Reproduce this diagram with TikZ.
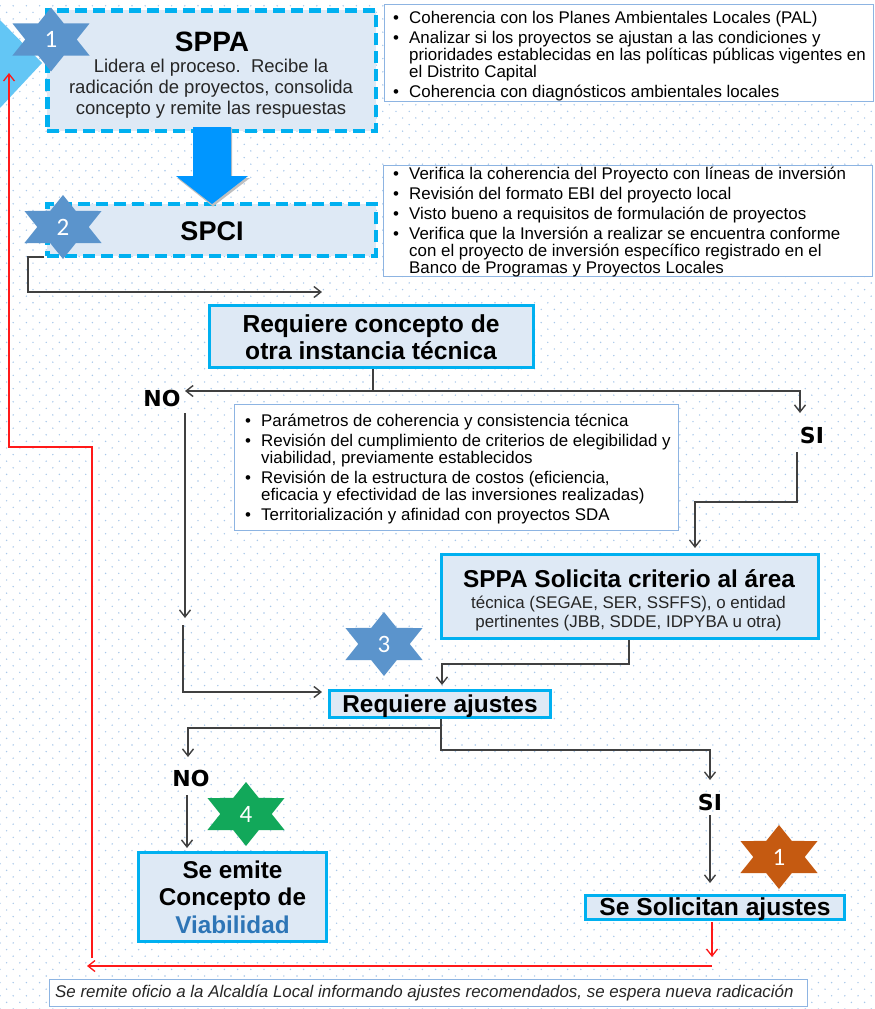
\documentclass[tikz,border=0pt]{standalone}
\usepackage{fontspec}
\setmainfont{Liberation Sans}
\newfontfamily\dejafont{DejaVu Sans}
\newfontfamily\carl{Carlito}
\usetikzlibrary{shapes.geometric,arrows.meta,patterns}
\definecolor{cy}{HTML}{00B0F0}
\definecolor{pale}{HTML}{DEE9F5}
\definecolor{stb}{HTML}{5B94CC}
\definecolor{boxb}{HTML}{8DB4E2}
\definecolor{dotc}{HTML}{A9C8EA}
\definecolor{arrowb}{HTML}{0096FF}
\definecolor{viab}{HTML}{2E75B6}
\definecolor{grn}{HTML}{12A85A}
\definecolor{brn}{HTML}{C55A11}
\definecolor{tri}{HTML}{63C6F5}
\pgfdeclarepatternformonly{dotgrid}{\pgfqpoint{-1pt}{-1pt}}{\pgfqpoint{14.2pt}{14.2pt}}{\pgfqpoint{13.2pt}{13.2pt}}{
 \pgfpathcircle{\pgfqpoint{0pt}{0pt}}{.8pt}
 \pgfpathcircle{\pgfqpoint{6.6pt}{6.6pt}}{.8pt}
 \pgfusepath{fill}
}
\tikzset{
 x=1pt,y=-1pt,
 dashbox/.style={draw=cy,line width=4.5pt,dash pattern=on 12pt off 6pt,fill=pale,inner sep=0pt,anchor=north west,align=center},
 solidbox/.style={draw=cy,line width=3pt,fill=pale,inner sep=0pt,anchor=north west,align=center},
 infobox/.style={draw=boxb,line width=1.2pt,fill=white,inner sep=0pt,anchor=north west},
 starnode/.style={star,star points=6,star point ratio=1.73,minimum size=64pt,inner sep=0pt,draw=none,xscale=1.39,fill=#1},
 starnum/.style={text=white,font=\carl\fontsize{25}{25}\selectfont,inner sep=0pt},
 blk/.style={draw=black!75,line width=1.4pt,-{Straight Barb[length=7pt,width=11pt]}},
 plainblk/.style={draw=black!75,line width=1.4pt},
 redl/.style={draw=red!90,line width=1.3pt,-{Straight Barb[length=7pt,width=11pt]}},
 lab/.style={font=\dejafont\fontsize{22}{22}\selectfont\bfseries,inner sep=1pt},
}
\newcommand{\blist}[3]{\parbox[t]{#1}{\fontsize{16.9}{17}\selectfont\raggedright
 \leftskip=#2 \parindent=0pt \parskip=3pt #3}}
\newcommand{\bi}{\par\hspace*{-16pt}\makebox[16pt][l]{\textbullet}}
\begin{document}
\begin{tikzpicture}
\useasboundingbox (0,0) rectangle (875,1009);
\fill[white] (0,0) rectangle (875,1009);
\fill[pattern=dotgrid,pattern color=dotc] (0,0) rectangle (875,1009);
\fill[tri] (0,20) -- (42,63) -- (0,108) -- cycle;

\node[infobox,minimum width=489pt,minimum height=97pt] (t1) at (384,4) {};
\node[infobox,minimum width=489pt,minimum height=111pt] (t2) at (383,165) {};
\node[infobox,minimum width=444pt,minimum height=126pt] (t3) at (234,404) {};
\node[anchor=north west,inner sep=0pt] (t1txt) at (384,5) {\blist{486pt}{25pt}{\vspace*{3pt}\bi Coherencia con los Planes Ambientales Locales (PAL)\bi Analizar si los proyectos se ajustan a las condiciones y\newline prioridades establecidas en las políticas públicas vigentes en\newline el Distrito Capital\bi Coherencia con diagnósticos ambientales locales}};
\node[anchor=north west,inner sep=0pt] (t2txt) at (383,164) {\blist{486pt}{26pt}{\vspace*{0pt}\bi Verifica la coherencia del Proyecto con líneas de inversión\bi Revisión del formato EBI del proyecto local\bi Visto bueno a requisitos de formulación de proyectos\bi Verifica que la Inversión a realizar se encuentra conforme\newline con el proyecto de inversión específico registrado en el\newline Banco de Programas y Proyectos Locales}};
\node[anchor=north west,inner sep=0pt] (t3txt) at (234,405) {\blist{442pt}{27pt}{\vspace*{6pt}\bi Parámetros de coherencia y consistencia técnica\bi Revisión del cumplimiento de criterios de elegibilidad y\newline viabilidad, previamente establecidos\bi Revisión de la estructura de costos (eficiencia,\newline eficacia y efectividad de las inversiones realizadas)\bi Territorialización y afinidad con proyectos SDA}};

\node[dashbox,minimum width=328.5pt,minimum height=120.5pt] (sppa) at (45,8) {};
\node[font=\fontsize{28}{28}\selectfont\bfseries] (sppat) at (212,42) {SPPA};
\node[align=center,font=\fontsize{18.5}{21}\selectfont,text=black!85] (sppad) at (211,89) {Lidera el proceso.\ \ Recibe la\\radicación de proyectos, consolida\\concepto y remite las respuestas};
\node[dashbox,minimum width=328.5pt,minimum height=52pt] (spci) at (45,201.5) {};
\node[font=\fontsize{27}{27}\selectfont\bfseries] (spcit) at (212,231) {SPCI};

\fill[black!25] (194,128) -- (232,128) -- (232,178) -- (250,178) -- (213,206.5) -- (177,178) -- (194,178) -- cycle;
\fill[arrowb] (193,127) -- (231,127) -- (231,176) -- (248,176) -- (212,204) -- (176,176) -- (193,176) -- cycle;

\node[solidbox,minimum width=324pt,minimum height=62pt] (req) at (208,304) {};
\node[align=center,font=\fontsize{24.6}{27}\selectfont\bfseries] (reqt) at (371,337.5) {Requiere concepto de\\otra instancia técnica};
\node[solidbox,minimum width=377pt,minimum height=84pt] (sol) at (440,553) {};
\node[font=\fontsize{24.4}{24}\selectfont\bfseries] (solt) at (629,579) {SPPA Solicita criterio al área};
\node[align=center,font=\fontsize{16.9}{19}\selectfont,text=black!85] (sold) at (628.5,613.5) {técnica (SEGAE, SER, SSFFS), o entidad\\pertinentes (JBB, SDDE, IDPYBA u otra)};
\node[solidbox,minimum width=221pt,minimum height=27pt] (aj) at (328,689) {};
\node[font=\fontsize{24.4}{24}\selectfont\bfseries] (ajt0) at (440,706) {Requiere ajustes};
\node[solidbox,minimum width=188pt,minimum height=89pt,font=\fontsize{24.3}{27.5}\selectfont\bfseries] (via) at (137,851) {Se emite\\Concepto de\\\textcolor{viab}{Viabilidad}};
\node[solidbox,minimum width=259pt,minimum height=24pt] (ss) at (584,894) {};
\node[font=\fontsize{24.6}{24}\selectfont\bfseries] (sst0) at (715,909) {Se Solicitan ajustes};
\node[draw=boxb,line width=1.2pt,fill=white,inner sep=0pt,anchor=north west,minimum width=758pt,minimum height=27pt] (rem) at (49,979) {};
\node[anchor=west,inner sep=0pt,font=\fontsize{16.9}{14}\selectfont\itshape,text=black!85] (remt) at (55,993) {Se remite oficio a la Alcaldía Local informando ajustes recomendados, se espera nueva radicación};

\node[lab] (no1) at (162,398) {NO};
\node[lab] (si1) at (812,435) {SI};
\node[lab] (no2) at (191,778) {NO};
\node[lab] (si2) at (710,802) {SI};

\node[starnode=stb] (s1) at (51,39.5) {};
\node[starnum] (n1) at (s1.center) {1};
\node[starnode=stb] (s2) at (63,227) {};
\node[starnum] (n2) at (s2.center) {2};
\node[starnode=stb] (s3) at (384,644) {};
\node[starnum] (n3) at (s3.center) {3};
\node[starnode=grn] (s4) at (246,814) {};
\node[starnum] (n4) at (s4.center) {4};
\node[starnode=brn] (s5) at (779,857) {};
\node[starnum] (n5) at (s5.center) {1};

% connectors
\coordinate (c1) at (44,257);
\coordinate (c2) at (322,292);
\draw[blk] (c1) -- (28,257) -- (28,292) -- (c2);
\coordinate (reqb) at (373,369);
\coordinate (split1) at (373,391);
\draw[plainblk] (reqb) -- (split1);
\coordinate (no1end) at (185,391);
\draw[blk] (split1) -- (no1end);
\coordinate (si1end) at (800,413);
\draw[blk] (split1) -- (800,391) -- (si1end);
\coordinate (a) at (185,413);
\coordinate (ae) at (185,618);
\draw[blk] (a) -- (ae);
\coordinate (b) at (183,625);
\coordinate (aw) at (322,692);
\draw[blk] (b) -- (183,692) -- (aw);
\coordinate (si1b) at (797,452);
\coordinate (solt1) at (695,548);
\draw[blk] (si1b) -- (797,502) -- (695,502) -- (solt1);
\coordinate (solb) at (629,640);
\coordinate (ajt) at (442,685);
\draw[blk] (solb) -- (629,664) -- (442,664) -- (ajt);
\coordinate (ajb) at (441,719);
\coordinate (split2) at (441,728);
\draw[plainblk] (ajb) -- (split2);
\coordinate (no2t) at (188,757);
\draw[blk] (split2) -- (188,728) -- (no2t);
\coordinate (si2t) at (710,780);
\draw[blk] (split2) -- (441,750) -- (710,750) -- (si2t);
\coordinate (si2b) at (710,815);
\coordinate (sst) at (710,883);
\draw[blk] (si2b) -- (sst);
\coordinate (no2b) at (187,795);
\coordinate (viat) at (187,848);
\draw[blk] (no2b) -- (viat);
\coordinate (ssb) at (712,922);
\coordinate (r1) at (712,957);
\draw[redl] (ssb) -- (r1);
\coordinate (r2) at (712,966);
\coordinate (r3) at (87,966);
\draw[redl] (r2) -- (r3);
\coordinate (r4) at (92,958);
\coordinate (r5) at (9,73);
\draw[redl] (r4) -- (92,447) -- (9,447) -- (r5);
\end{tikzpicture}
\end{document}
